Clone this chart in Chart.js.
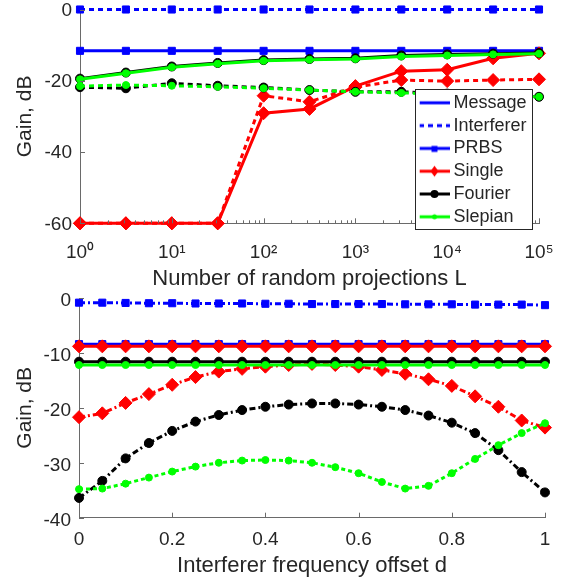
<!DOCTYPE html>
<html><head><meta charset="utf-8">
<script src="https://cdn.jsdelivr.net/npm/chart.js@4"></script>
<style>
html,body{margin:0;padding:0;background:#fff;width:563px;height:577px;overflow:hidden}
#top{position:absolute;left:0;top:0}
#bot{position:absolute;left:0;top:290px}
#legWrap{position:absolute;left:415px;top:89px;width:118px;height:141px;box-sizing:border-box;border:1px solid #262626;background:#fff;overflow:hidden}
#leg{position:absolute;left:0;top:-1.5px}
</style></head><body>
<canvas id="top" width="563" height="290"></canvas>
<canvas id="bot" width="563" height="287"></canvas>
<div id="legWrap"><canvas id="leg" width="300" height="180"></canvas></div>
<script>
// ---------- data: top panel (gain vs number of random projections L) ----------
const projectionsL = [1, 3.162, 10, 31.62, 100, 316.2, 1000, 3162, 10000, 31623, 100000];
const prbsMsgL     = [-11.6, -11.6, -11.6, -11.6, -11.6, -11.6, -11.6, -11.6, -11.6, -11.6, -11.6];
const prbsIntL     = [0, 0, 0, 0, 0, 0, 0, 0, 0, 0, 0];
const singleMsgL   = [-60, -60, -60, -60, -29.1, -27.9, -21.5, -17.3, -16.9, -13.7, -12.3];
const singleIntL   = [-60, -60, -60, -60, -24.2, -25.9, -21.8, -19.8, -20.1, -19.8, -19.6];
const fourierMsgL  = [-19.4, -17.7, -16.0, -15.0, -14.2, -13.9, -13.7, -12.9, -12.6, -12.4, -12.2];
const fourierIntL  = [-21.8, -22.1, -20.7, -21.4, -21.9, -22.6, -23.1, -23.1, -23.6, -24.0, -24.5];
const slepianMsgL  = [-19.6, -17.9, -16.2, -15.2, -14.4, -14.1, -13.9, -13.2, -12.9, -12.6, -12.4];
const slepianIntL  = [-21.5, -21.2, -21.4, -21.7, -22.1, -22.6, -23.1, -23.4, -23.8, -24.1, -24.5];

// ---------- data: bottom panel (gain vs interferer frequency offset d) ----------
const offsetD      = [0, 0.05, 0.1, 0.15, 0.2, 0.25, 0.3, 0.35, 0.4, 0.45, 0.5, 0.55, 0.6, 0.65, 0.7, 0.75, 0.8, 0.85, 0.9, 0.95, 1];
const prbsMsgD     = [-8.4, -8.4, -8.4, -8.4, -8.4, -8.4, -8.4, -8.4, -8.4, -8.4, -8.4, -8.4, -8.4, -8.4, -8.4, -8.4, -8.4, -8.4, -8.4, -8.4, -8.4];
const prbsIntD     = [-0.85, -0.85, -0.9, -0.95, -0.95, -1.0, -1.0, -1.0, -1.05, -1.05, -1.1, -1.1, -1.1, -1.1, -1.15, -1.15, -1.15, -1.2, -1.2, -1.2, -1.3];
const singleMsgD   = [-8.8, -8.8, -8.8, -8.8, -8.8, -8.8, -8.8, -8.8, -8.8, -8.8, -8.8, -8.8, -8.8, -8.8, -8.8, -8.8, -8.8, -8.8, -8.8, -8.8, -8.8];
const singleIntD   = [-21.7, -21.0, -19.1, -17.5, -15.8, -14.4, -13.4, -12.9, -12.5, -12.2, -12.0, -12.2, -12.5, -13.1, -13.8, -14.8, -16.0, -17.9, -19.8, -22.3, -23.6];
const fourierMsgD  = [-11.6, -11.6, -11.6, -11.6, -11.6, -11.6, -11.6, -11.6, -11.6, -11.6, -11.6, -11.6, -11.6, -11.6, -11.6, -11.6, -11.6, -11.6, -11.6, -11.6, -11.6];
const fourierIntD  = [-36.4, -33.3, -29.2, -26.4, -24.2, -22.5, -21.3, -20.4, -19.8, -19.4, -19.2, -19.2, -19.4, -19.8, -20.4, -21.4, -22.7, -24.6, -27.7, -31.7, -35.4];
const slepianMsgD  = [-12.2, -12.2, -12.2, -12.2, -12.2, -12.2, -12.2, -12.2, -12.2, -12.2, -12.2, -12.2, -12.2, -12.2, -12.2, -12.2, -12.2, -12.2, -12.2, -12.2, -12.2];
const slepianIntD  = [-34.8, -34.7, -33.8, -32.7, -31.6, -30.7, -30.0, -29.6, -29.5, -29.6, -30.0, -30.8, -31.9, -33.5, -34.7, -34.2, -31.9, -29.3, -26.8, -24.6, -22.8];

// ---------- ticks / labels ----------
const decadeTicks  = [1, 10, 100, 1000, 10000, 100000];
const minorTicksL  = [2,3,4,5,6,7,8,9,20,30,40,50,60,70,80,90,200,300,400,500,600,700,800,900,2000,3000,4000,5000,6000,7000,8000,9000,20000,30000,40000,50000,60000,70000,80000,90000];
const superscripts = ['\u2070','\u00B9','\u00B2','\u00B3','\u2074','\u2075'];
const yTicksTop    = [-60, -40, -20, 0];
const yTicksBot    = [-40, -30, -20, -10, 0];
const xTicksBot    = [0, 0.2, 0.4, 0.6, 0.8, 1];
const legendNames  = ['Message', 'Interferer', 'PRBS', 'Single', 'Fourier', 'Slepian'];
const titleTopX    = 'Number of random projections L';
const titleBotX    = 'Interferer frequency offset d';
const titleY       = 'Gain, dB';

const FF = '"Liberation Sans", Arial, Helvetica, sans-serif';
const TX = '#262626';
const AX = '#6a6a6a';
const BLUE = '#0000ff', RED = '#ff0000', BLACK = '#000000', GREEN = '#00ff00';
const DOT = [5, 4], DASHDOT = [6, 3, 2, 3], DOTB = [4, 3];
const TICKFONT = {family: FF, size: 19};

function ds(label, xs, ys, color, style, radius, dash, order) {
  return {
    label, data: xs.map((x, i) => ({x, y: ys[i]})),
    borderColor: color, backgroundColor: color,
    pointBackgroundColor: color, pointBorderColor: color,
    borderWidth: 3, borderDash: dash, pointStyle: style, pointRadius: radius,
    pointBorderWidth: 1, tension: 0, clip: false, order, fill: false
  };
}

function zeroPad(s) { s.paddingLeft = 0; s.paddingRight = 0; s.paddingTop = 0; s.paddingBottom = 0; }

function inwardTicks(xMajor, xMinor, yMajor) {
  return {
    id: 'inwardTicks',
    afterDraw(chart) {
      const {ctx, scales: {x, y}, chartArea: a} = chart;
      ctx.save();
      ctx.strokeStyle = AX; ctx.lineWidth = 1;
      ctx.beginPath();
      xMajor.forEach(v => { const p = Math.round(x.getPixelForValue(v)) + 0.5; ctx.moveTo(p, a.bottom); ctx.lineTo(p, a.bottom - 5); });
      xMinor.forEach(v => { const p = Math.round(x.getPixelForValue(v)) + 0.5; ctx.moveTo(p, a.bottom); ctx.lineTo(p, a.bottom - 3); });
      yMajor.forEach(v => { const p = Math.round(y.getPixelForValue(v)) + 0.5; ctx.moveTo(a.left, p); ctx.lineTo(a.left + 5, p); });
      ctx.stroke();
      ctx.restore();
    }
  };
}

const common = {
  responsive: false, animation: false, devicePixelRatio: 1,
  plugins: {legend: {display: false}, tooltip: {enabled: false}}
};

// ---------- top chart ----------
new Chart(document.getElementById('top'), {
  type: 'line',
  data: {datasets: [
    ds('PRBS message', projectionsL, prbsMsgL, BLUE, 'rect', 5, [], 8),
    ds('PRBS interferer', projectionsL, prbsIntL, BLUE, 'rect', 5, DOT, 7),
    ds('Single message', projectionsL, singleMsgL, RED, 'rectRot', 6.5, [], 6),
    ds('Single interferer', projectionsL, singleIntL, RED, 'rectRot', 6.5, DOT, 5),
    ds('Fourier message', projectionsL, fourierMsgL, BLACK, 'circle', 4.5, [], 4),
    ds('Fourier interferer', projectionsL, fourierIntL, BLACK, 'circle', 4.5, DOT, 3),
    ds('Slepian message', projectionsL, slepianMsgL, GREEN, 'circle', 3.5, [], 2),
    ds('Slepian interferer', projectionsL, slepianIntL, GREEN, 'circle', 3.5, DOT, 1)
  ]},
  options: Object.assign({}, common, {
    layout: {padding: {top: 9.5, right: 24, left: 0, bottom: 0}},
    scales: {
      x: {
        type: 'logarithmic', min: 1, max: 100000, position: 'bottom',
        grid: {display: false, drawTicks: false},
        border: {display: true, color: AX, width: 1},
        ticks: {font: TICKFONT, color: TX, padding: 18, autoSkip: false, maxRotation: 0,
          callback: v => '10' + superscripts[Math.round(Math.log10(v))]},
        afterBuildTicks: s => { s.ticks = decadeTicks.map(v => ({value: v, major: true})); },
        title: {display: true, text: titleTopX, font: {family: FF, size: 22}, color: TX, padding: {top: 0, bottom: -2}},
        afterFit: s => { s.height = 290 - 223.3; zeroPad(s); }
      },
      y: {
        min: -60, max: 0,
        grid: {display: false, drawTicks: false},
        border: {display: true, color: AX, width: 1},
        ticks: {stepSize: 20, font: TICKFONT, color: TX, padding: 8, labelOffset: 1},
        title: {display: true, text: titleY, font: {family: FF, size: 21}, color: TX, padding: {top: 12.5, bottom: 0}},
        afterFit: s => { s.width = 80; zeroPad(s); }
      }
    }
  }),
  plugins: [inwardTicks(decadeTicks, minorTicksL, yTicksTop)]
});

// ---------- bottom chart ----------
new Chart(document.getElementById('bot'), {
  type: 'line',
  data: {datasets: [
    ds('PRBS message', offsetD, prbsMsgD, BLUE, 'rect', 5, [], 8),
    ds('PRBS interferer', offsetD, prbsIntD, BLUE, 'rect', 5, DASHDOT, 7),
    ds('Single message', offsetD, singleMsgD, RED, 'rectRot', 6.5, [], 6),
    ds('Single interferer', offsetD, singleIntD, RED, 'rectRot', 6.5, DASHDOT, 5),
    ds('Fourier message', offsetD, fourierMsgD, BLACK, 'circle', 4.5, [], 4),
    ds('Fourier interferer', offsetD, fourierIntD, BLACK, 'circle', 4.5, DASHDOT, 3),
    ds('Slepian message', offsetD, slepianMsgD, GREEN, 'circle', 3.5, [], 2),
    ds('Slepian interferer', offsetD, slepianIntD, GREEN, 'circle', 3.5, DOTB, 1)
  ]},
  options: Object.assign({}, common, {
    layout: {padding: {top: 8, right: 18, left: 0, bottom: 0}},
    scales: {
      x: {
        type: 'linear', min: 0, max: 1, position: 'bottom',
        grid: {display: false, drawTicks: false},
        border: {display: true, color: AX, width: 1},
        ticks: {stepSize: 0.2, font: TICKFONT, color: TX, padding: 11, autoSkip: false, maxRotation: 0,
          callback: v => String(+(+v).toFixed(1))},
        title: {display: true, text: titleBotX, font: {family: FF, size: 22}, color: TX, padding: {top: 0, bottom: -2.2}},
        afterFit: s => { s.height = 287 - 227.7; zeroPad(s); }
      },
      y: {
        min: -40, max: 0,
        grid: {display: false, drawTicks: false},
        border: {display: true, color: AX, width: 1},
        ticks: {stepSize: 10, font: TICKFONT, color: TX, padding: 8, labelOffset: 3},
        title: {display: true, text: titleY, font: {family: FF, size: 21}, color: TX, padding: {top: 12.5, bottom: 0}},
        afterFit: s => { s.width = 79; zeroPad(s); }
      }
    }
  }),
  plugins: [inwardTicks(xTicksBot, [], yTicksBot)]
});

// ---------- legend (style key) ----------
const legendColors  = [BLUE, BLUE, BLUE, RED, BLACK, GREEN];
const legendDashes  = [[], [5, 4], [], [], [], []];
const legendMarkers = [null, null, 'rect', 'diamond', 'circle', 'dot'];
function sampleImage(i) {
  const c = document.createElement('canvas');
  c.width = 31; c.height = 14;
  const g = c.getContext('2d');
  g.strokeStyle = legendColors[i]; g.fillStyle = legendColors[i];
  g.lineWidth = 3; g.setLineDash(legendDashes[i]);
  g.beginPath(); g.moveTo(0, 7); g.lineTo(31, 7); g.stroke();
  g.setLineDash([]);
  const m = legendMarkers[i];
  g.beginPath();
  if (m === 'rect') { g.rect(12.5, 4.5, 6, 6); }
  else if (m === 'diamond') { g.moveTo(15.5, 1.5); g.lineTo(19.5, 7); g.lineTo(15.5, 12.5); g.lineTo(11.5, 7); g.closePath(); }
  else if (m === 'circle') { g.arc(15.5, 7, 4, 0, Math.PI * 2); }
  else if (m === 'dot') { g.arc(15.5, 7, 2.5, 0, Math.PI * 2); }
  g.fill();
  return c;
}
const legendSamples = legendNames.map((n, i) => sampleImage(i));

new Chart(document.getElementById('leg'), {
  type: 'line',
  data: {datasets: []},
  options: {
    responsive: false, animation: false, devicePixelRatio: 1,
    layout: {padding: {left: 3.7, top: 0, right: 0, bottom: 0}},
    scales: {x: {display: false}, y: {display: false}},
    plugins: {
      tooltip: {enabled: false},
      legend: {
        display: true, position: 'left', align: 'start',
        labels: {
          usePointStyle: true, pointStyleWidth: 20, padding: 4.8, color: TX,
          font: {family: FF, size: 18},
          generateLabels: () => legendNames.map((t, i) => ({
            text: t, pointStyle: legendSamples[i], fillStyle: '#fff', strokeStyle: '#fff',
            lineWidth: 0, hidden: false, datasetIndex: i, fontColor: TX
          }))
        }
      }
    }
  }
});
</script>
</body></html>
